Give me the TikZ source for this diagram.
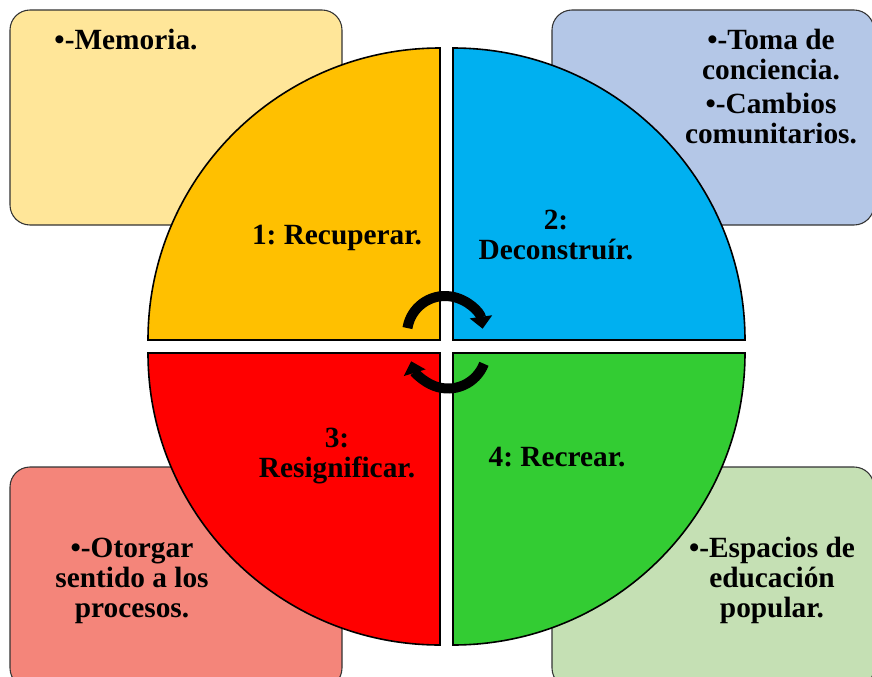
\documentclass[tikz,border=0pt]{standalone}
\usepackage{fontspec}
\setmainfont{Liberation Serif}
\usetikzlibrary{arrows.meta}
\frenchspacing
\definecolor{amarillo}{HTML}{FFC000}
\definecolor{azul}{HTML}{00B0F0}
\definecolor{rojo}{HTML}{FF0000}
\definecolor{verde}{HTML}{33CC33}
\definecolor{amarilloclaro}{HTML}{FFE699}
\definecolor{azulclaro}{HTML}{B4C7E7}
\definecolor{rojoclaro}{HTML}{F4857A}
\definecolor{verdeclaro}{HTML}{C5E0B4}

\begin{document}
\begin{tikzpicture}[x=0.75pt,y=-0.75pt,
  caja/.style={draw=black!80,line width=0.8pt,rounded corners=15pt},
  cuarto/.style={draw=black,line width=1.2pt},
  texto/.style={font=\bfseries\fontsize{22}{22.5}\selectfont,align=center,inner sep=0pt},
  giro/.style={line width=7.5pt,-{Triangle[width=16.5pt,length=9pt]}}]
\useasboundingbox (0,0) rectangle (872,676);
\clip (0,0) rectangle (872,676);
\draw[caja,fill=amarilloclaro] (10,10) rectangle (342,225);
\draw[caja,fill=azulclaro] (552,10) rectangle (874,225);
\draw[caja,fill=rojoclaro] (10,467) rectangle (342,688);
\draw[caja,fill=verdeclaro] (552,467) rectangle (874,688);
\draw[cuarto,fill=amarillo] (440,340) -- (148,340) arc[start angle=180,end angle=270,radius=292] -- cycle;
\draw[cuarto,fill=azul] (453,340) -- (453,48) arc[start angle=270,end angle=360,radius=292] -- cycle;
\draw[cuarto,fill=verde] (453,353) -- (745,353) arc[start angle=0,end angle=90,radius=292] -- cycle;
\draw[cuarto,fill=rojo] (440,353) -- (440,645) arc[start angle=90,end angle=180,radius=292] -- cycle;
\draw[giro] (445,334) ++(-171:38) arc[start angle=-171,end angle=-8,radius=38];
\draw[giro] (448,350) ++(21:38.5) arc[start angle=21,end angle=163,radius=38.5];
\node[texto] (memoria) at (126,40) {•-Memoria.};
\node[texto] (toma) at (771,87) {•-Toma de\\conciencia.\\[3pt]•-Cambios\\comunitarios.};
\node[texto] (otorgar) at (132,581) {•-Otorgar\\sentido a los\\procesos.};
\node[texto] (espacios) at (772,580) {•-Espacios de\\educación\\popular.};
\node[texto] (recuperar) at (337,238) {1: Recuperar.};
\node[texto] (deconstruir) at (556,235) {2:\\Deconstruír.};
\node[texto] (resignificar) at (337,456) {3:\\Resignificar.};
\node[texto] (recrear) at (557,457) {4: Recrear.};
\end{tikzpicture}
\end{document}
